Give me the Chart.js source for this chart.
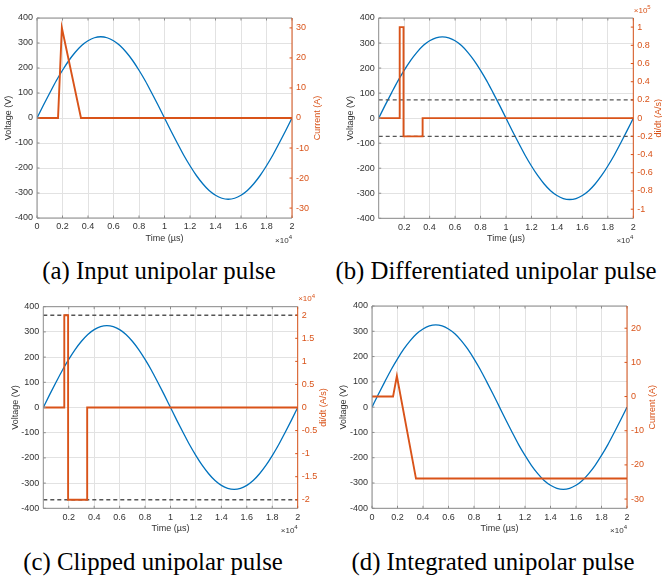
<!DOCTYPE html>
<html>
<head>
<meta charset="utf-8">
<script src="https://cdn.jsdelivr.net/npm/chart.js@4.4.0/dist/chart.umd.min.js"></script>
<style>
  body { margin: 0; background: #fff; width: 662px; height: 581px; position: relative; overflow: hidden; }
  .panel { position: absolute; width: 331px; height: 250px; }
  .cap {
    position: absolute; white-space: nowrap; transform: translateX(-50%);
    font-family: "Liberation Serif", "Times New Roman", serif; font-size: 24.8px; line-height: 24.8px; color: #000;
  }
</style>
</head>
<body>
<div class="panel" style="left:0;top:0"><canvas id="chartA" width="331" height="250"></canvas></div>
<div class="panel" style="left:331px;top:0"><canvas id="chartB" width="331" height="250"></canvas></div>
<div class="panel" style="left:0;top:290px"><canvas id="chartC" width="331" height="250"></canvas></div>
<div class="panel" style="left:331px;top:290px"><canvas id="chartD" width="331" height="250"></canvas></div>
<div class="cap" style="left:159px;top:259px">(a) Input unipolar pulse</div>
<div class="cap" style="left:496px;top:259px">(b) Differentiated unipolar pulse</div>
<div class="cap" style="left:153px;top:549.5px">(c) Clipped unipolar pulse</div>
<div class="cap" style="left:493px;top:549.5px">(d) Integrated unipolar pulse</div>
<script>
// mains voltage, read every 500 µs
const timeUs = [0, 500, 1000, 1500, 2000, 2500, 3000, 3500, 4000, 4500, 5000,
  5500, 6000, 6500, 7000, 7500, 8000, 8500, 9000, 9500, 10000,
  10500, 11000, 11500, 12000, 12500, 13000, 13500, 14000, 14500, 15000,
  15500, 16000, 16500, 17000, 17500, 18000, 18500, 19000, 19500, 20000];
const voltage = [0, 51, 100, 148, 191, 230, 263, 290, 309, 321, 325,
  321, 309, 290, 263, 230, 191, 148, 100, 51, 0,
  -51, -100, -148, -191, -230, -263, -290, -309, -321, -325,
  -321, -309, -290, -263, -230, -191, -148, -100, -51, 0];

// pulse signals
const pulseTime = [0, 1650, 1950, 3450, 20000];
const current = [0, 0, 30, 0, 0];
const integrated = [0, 0, 6, -24, -24];
const stepTime = [0, 1650, 1650, 1950, 1950, 3450, 3450, 20000];
const didt = [0, 0, 100000, 100000, -20000, -20000, 0, 0];
const didtClipped = [0, 0, 20000, 20000, -20000, -20000, 0, 0];
const threshold = [20000, -20000];

// ticks
const xTicks = [0, 2000, 4000, 6000, 8000, 10000, 12000, 14000, 16000, 18000, 20000];
const voltTicks = [-400, -300, -200, -100, 0, 100, 200, 300, 400];
const currentTicks = [-30, -20, -10, 0, 10, 20, 30];
const didtTicks = [-100000, -80000, -60000, -40000, -20000, 0, 20000, 40000, 60000, 80000, 100000];
const clipTicks = [-20000, -15000, -10000, -5000, 0, 5000, 10000, 15000, 20000];
const intTicks = [-30, -20, -10, 0, 10, 20];

const BLUE = '#0072BD', ORANGE = '#D95319', TEXT = '#333333', FRAME = '#8c8c8c', GRID = '#e2e2e2';
const FONT = '"Liberation Sans", Arial, sans-serif';

const pts = (xs, ys) => xs.map((x, i) => ({ x: x, y: ys[i] }));
const fmt = (v, s) => String(+(v / s).toFixed(2));

function drawExp(ctx, x, y, exp, alignRight, color) {
  ctx.fillStyle = color;
  ctx.textAlign = 'left';
  ctx.textBaseline = 'alphabetic';
  ctx.font = '8px ' + FONT;
  const wb = ctx.measureText('\u00d710').width;
  ctx.font = '6px ' + FONT;
  const we = ctx.measureText(exp).width;
  const x0 = alignRight ? x - wb - we : x;
  ctx.font = '8px ' + FONT;
  ctx.fillText('\u00d710', x0, y);
  ctx.font = '6px ' + FONT;
  ctx.fillText(exp, x0 + wb, y - 3.5);
}

const decor = {
  id: 'decor',
  afterDraw(chart, args, o) {
    const { ctx, chartArea: a, scales } = chart;
    ctx.save();
    ctx.lineWidth = 1;
    // frame
    ctx.strokeStyle = FRAME;
    ctx.beginPath();
    ctx.moveTo(a.right, a.top); ctx.lineTo(a.left, a.top);
    ctx.lineTo(a.left, a.bottom); ctx.lineTo(a.right, a.bottom);
    ctx.stroke();
    // inward ticks
    ctx.beginPath();
    scales.x.ticks.forEach(t => {
      const px = scales.x.getPixelForValue(t.value);
      ctx.moveTo(px, a.bottom); ctx.lineTo(px, a.bottom - 2.5);
      ctx.moveTo(px, a.top); ctx.lineTo(px, a.top + 2.5);
    });
    scales.y.ticks.forEach(t => {
      const py = scales.y.getPixelForValue(t.value);
      ctx.moveTo(a.left, py); ctx.lineTo(a.left + 2.5, py);
    });
    ctx.stroke();
    ctx.strokeStyle = ORANGE;
    ctx.beginPath();
    ctx.moveTo(a.right, a.top); ctx.lineTo(a.right, a.bottom);
    scales.y1.ticks.forEach(t => {
      const py = scales.y1.getPixelForValue(t.value);
      ctx.moveTo(a.right, py); ctx.lineTo(a.right - 2.5, py);
    });
    ctx.stroke();
    // axis titles
    ctx.font = '9px ' + FONT;
    ctx.textAlign = 'center';
    ctx.textBaseline = 'middle';
    ctx.fillStyle = TEXT;
    ctx.fillText('Time (\u00b5s)', (a.left + a.right) / 2, a.bottom + 20.5);
    ctx.save();
    ctx.translate(a.left - 28, (a.top + a.bottom) / 2);
    ctx.rotate(-Math.PI / 2);
    ctx.fillText('Voltage (V)', 0, 0);
    ctx.restore();
    ctx.fillStyle = ORANGE;
    ctx.save();
    ctx.translate(a.right + 25.5, (a.top + a.bottom) / 2);
    ctx.rotate(-Math.PI / 2);
    ctx.fillText(o.rightTitle, 0, 0);
    ctx.restore();
    // exponents
    drawExp(ctx, a.right, a.bottom + 24.5, '4', true, TEXT);
    if (o.rightExp) drawExp(ctx, a.right + 0.5, a.top - 5.5, o.rightExp, false, ORANGE);
    ctx.restore();
  }
};

function makePanel(id, p) {
  const W = 331, H = 250;
  const datasets = [{
    data: p.pulse, yAxisID: 'y1', borderColor: ORANGE, borderWidth: 1.9,
    pointRadius: 0, tension: 0
  }];
  (p.dashed || []).forEach(v => datasets.push({
    data: [{ x: 0, y: v }, { x: 20000, y: v }], yAxisID: 'y1',
    borderColor: '#555555', borderWidth: 1.3, borderDash: [4, 3], pointRadius: 0
  }));
  datasets.push({
    data: pts(timeUs, voltage), yAxisID: 'y', borderColor: BLUE, borderWidth: 1.3,
    pointRadius: 0, cubicInterpolationMode: 'monotone'
  });
  return new Chart(document.getElementById(id), {
    type: 'line',
    data: { datasets: datasets },
    options: {
      responsive: false,
      animation: false,
      layout: { padding: { top: p.area.t, left: 0, right: 0, bottom: 0 } },
      plugins: {
        legend: { display: false },
        tooltip: { enabled: false },
        decor: { rightTitle: p.rightTitle, rightExp: p.rightExp }
      },
      scales: {
        x: {
          type: 'linear', min: 0, max: 20000,
          afterBuildTicks: s => { s.ticks = p.xTicks.map(v => ({ value: v })); },
          afterFit: s => { s.height = H - p.area.b; },
          grid: { color: GRID, drawTicks: false },
          border: { display: false },
          ticks: { padding: 3.5, maxRotation: 0, autoSkip: false, color: TEXT, font: { size: 9, family: FONT },
            callback: v => fmt(v, 10000) }
        },
        y: {
          position: 'left', min: -400, max: 400,
          afterBuildTicks: s => { s.ticks = voltTicks.map(v => ({ value: v })); },
          afterFit: s => { s.width = p.area.l; },
          grid: { color: GRID, drawTicks: false },
          border: { display: false },
          ticks: { padding: 4, autoSkip: false, color: TEXT, font: { size: 9, family: FONT } }
        },
        y1: {
          position: 'right', min: p.rMin, max: p.rMax,
          afterBuildTicks: s => { s.ticks = p.rTicks.map(v => ({ value: v })); },
          afterFit: s => { s.width = W - p.area.r; },
          grid: { drawOnChartArea: false, drawTicks: false },
          border: { display: false },
          ticks: { padding: 4, autoSkip: false, color: ORANGE, font: { size: 9, family: FONT },
            callback: v => fmt(v, p.rScale) }
        }
      }
    },
    plugins: [decor]
  });
}

makePanel('chartA', {
  area: { l: 37, t: 18, r: 292, b: 218 },
  xTicks: xTicks, pulse: pts(pulseTime, current),
  rMin: -33.3, rMax: 33.3, rTicks: currentTicks, rScale: 1, rightTitle: 'Current (A)'
});
makePanel('chartB', {
  area: { l: 47.7, t: 18, r: 302.3, b: 218.3 },
  xTicks: xTicks.slice(1), pulse: pts(stepTime, didt), dashed: threshold,
  rMin: -110000, rMax: 110000, rTicks: didtTicks, rScale: 100000,
  rightTitle: 'di/dt (A/s)', rightExp: '5'
});
makePanel('chartC', {
  area: { l: 43.3, t: 16.7, r: 297.7, b: 218.3 },
  xTicks: xTicks.slice(1), pulse: pts(stepTime, didtClipped), dashed: threshold,
  rMin: -21850, rMax: 21850, rTicks: clipTicks, rScale: 10000,
  rightTitle: 'di/dt (A/s)', rightExp: '4'
});
makePanel('chartD', {
  area: { l: 41, t: 16, r: 296, b: 218.3 },
  xTicks: xTicks, pulse: pts(pulseTime, integrated),
  rMin: -32.7, rMax: 26.5, rTicks: intTicks, rScale: 1, rightTitle: 'Current (A)'
});
</script>
</body>
</html>
